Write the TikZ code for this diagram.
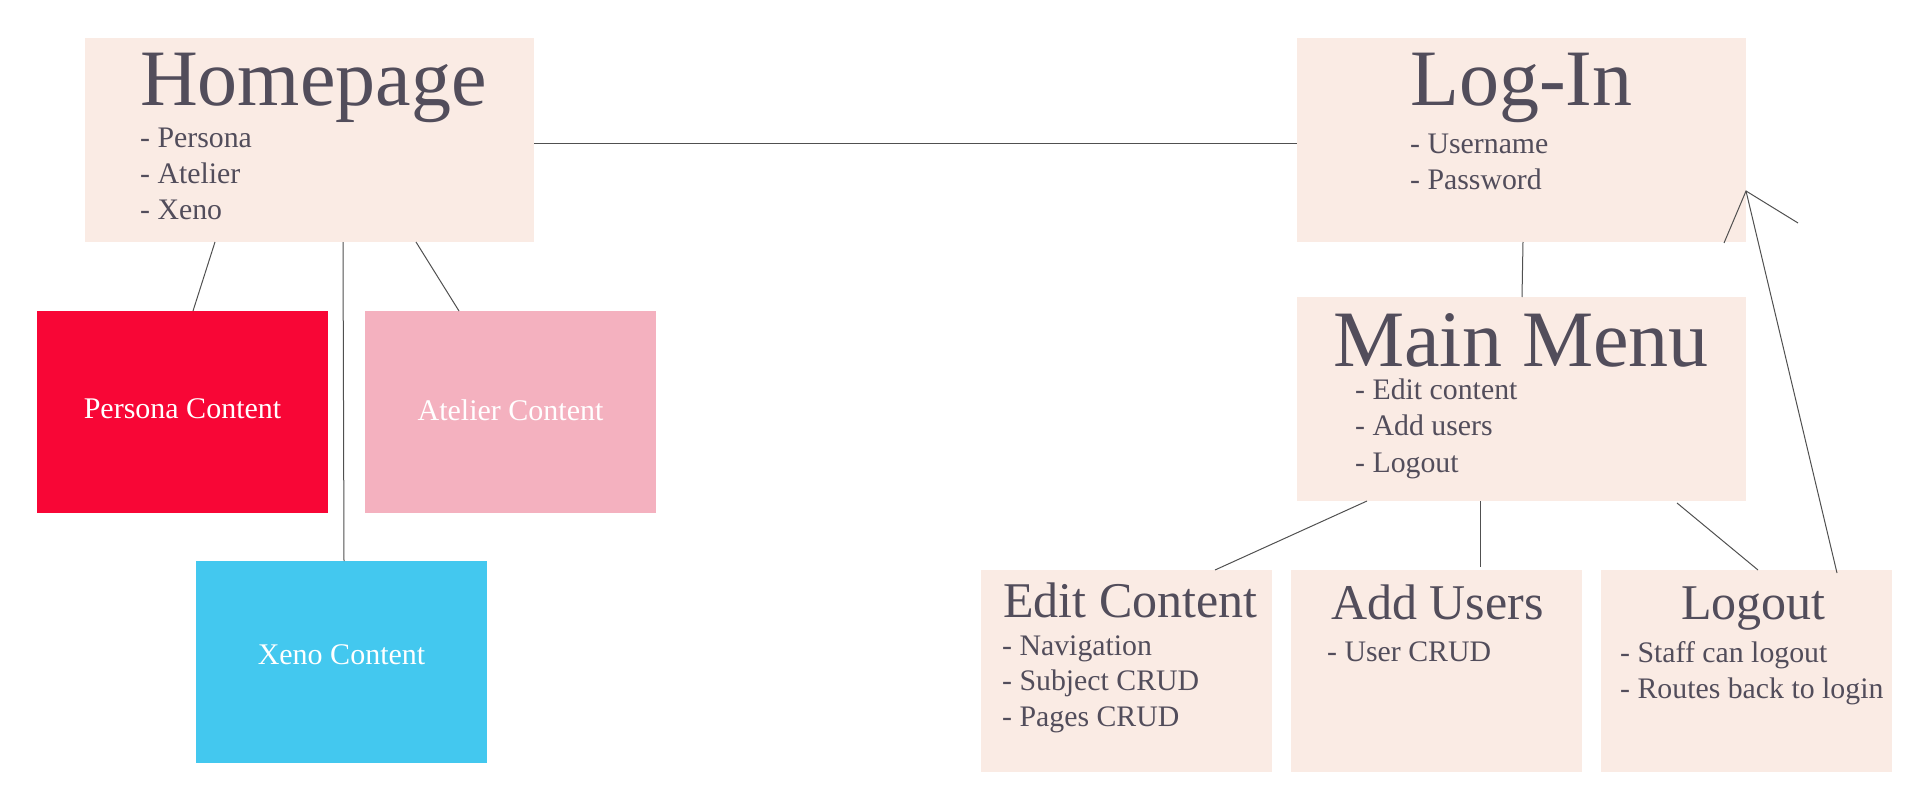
\documentclass[tikz,border=0pt]{standalone}
\usepackage{fontspec}
\setmainfont{Liberation Serif}
\usetikzlibrary{calc}
\definecolor{boxfill}{HTML}{FAEBE4}
\definecolor{txt}{HTML}{524D5B}
\definecolor{edge}{HTML}{505050}
\definecolor{pred}{HTML}{F80636}
\definecolor{ppink}{HTML}{F4B1BF}
\definecolor{pblue}{HTML}{43C8EF}
\begin{document}
\begin{tikzpicture}[x=1pt,y=-1pt,
 box/.style={rectangle, fill=boxfill, anchor=north west, inner sep=0pt, outer sep=0pt, minimum width=#1},
 box/.default=449pt,
 big/.style={anchor=base west, inner sep=0pt, text=txt, font=\fontsize{80}{96}\selectfont},
 mid/.style={anchor=base west, inner sep=0pt, text=txt, font=\fontsize{50}{60}\selectfont},
 item/.style={anchor=base west, inner sep=0pt, text=txt, font=\fontsize{29.8}{35}\selectfont},
 content/.style={anchor=base, inner sep=0pt, text=white, font=\fontsize{30}{36}\selectfont},
 link/.style={draw=edge, line width=1pt}]
\path[use as bounding box] (0,0) rectangle (1920,800);

% boxes
\node[box, minimum height=204pt] (home) at (85,38) {};
\node[box, minimum height=204pt] (login) at (1297,38) {};
\node[box, minimum height=204pt] (main) at (1297,297) {};
\node[box=291pt, minimum height=202pt] (edit) at (981,570) {};
\node[box=291pt, minimum height=202pt] (add) at (1291,570) {};
\node[box=291pt, minimum height=202pt] (logout) at (1601,570) {};
\node[box=291pt, minimum height=202pt, fill=pred] (persona) at (37,311) {};
\node[box=291pt, minimum height=202pt, fill=ppink] (atelier) at (365,311) {};
\node[box=291pt, minimum height=202pt, fill=pblue] (xeno) at (196,561) {};

% texts
\node[big] (homeT) at (140,106) {Homepage};
\node[item] (homeA) at (140,147) {- Persona};
\node[item] (homeB) at (140,183) {- Atelier};
\node[item] (homeC) at (140,219) {- Xeno};

\node[big] (loginT) at (1410,105) {Log-In};
\node[item] (loginA) at (1410,153) {- Username};
\node[item] (loginB) at (1410,189) {- Password};

\node[big] (mainT) at (1333,366) {Main Menu};
\node[item] (mainA) at (1355,399) {- Edit content};
\node[item] (mainB) at (1355,435) {- Add users};
\node[item] (mainC) at (1355,472) {- Logout};

\node[mid] (editT) at (1003,617) {Edit Content};
\node[item] (editA) at (1002,655) {- Navigation};
\node[item] (editB) at (1002,690) {- Subject CRUD};
\node[item] (editC) at (1002,726) {- Pages CRUD};

\node[mid] (addT) at (1331,619) {Add Users};
\node[item] (addA) at (1327,661) {- User CRUD};

\node[mid] (logoutT) at (1681,619) {Logout};
\node[item] (logoutA) at (1620,662) {- Staff can logout};
\node[item] (logoutB) at (1620,698) {- Routes back to login};

\node[content] (personaT) at (182.5,418) {Persona Content};
\node[content] (atelierT) at (510.5,420) {Atelier Content};
\node[content] (xenoT) at (341.5,664) {Xeno Content};

% connectors
\draw[link] ([yshift=-3pt]home.east) -- ([yshift=-3pt]login.west);
\draw[link] ([xshift=130pt]home.south west) -- ([xshift=156pt]persona.north west);
\draw[link] ([xshift=258pt]home.south west) -- ([xshift=148pt]xeno.north west);
\draw[link] ([xshift=331pt]home.south west) -- ([xshift=94pt]atelier.north west);
\draw[link] ([xshift=226pt]login.south west) -- ([xshift=225pt]main.north west);
\draw[link] ([xshift=70pt]main.south west) -- ([xshift=234pt]edit.north west);
\draw[link] ([xshift=183pt]main.south west) -- ([xshift=189pt,yshift=3pt]add.north west);
\draw[link] ([xshift=380pt,yshift=-2pt]main.south west) -- ([xshift=157pt]logout.north west);
\coordinate (tip) at ([yshift=51pt]login.south east);
\coordinate (barbA) at ($(tip)+(-22,52)$);
\coordinate (barbB) at ($(tip)+(52,32)$);
\draw[link] ([xshift=236pt,yshift=-3pt]logout.north west) -- (tip);
\draw[link] (barbA) -- (tip) -- (barbB);
\end{tikzpicture}
\end{document}
